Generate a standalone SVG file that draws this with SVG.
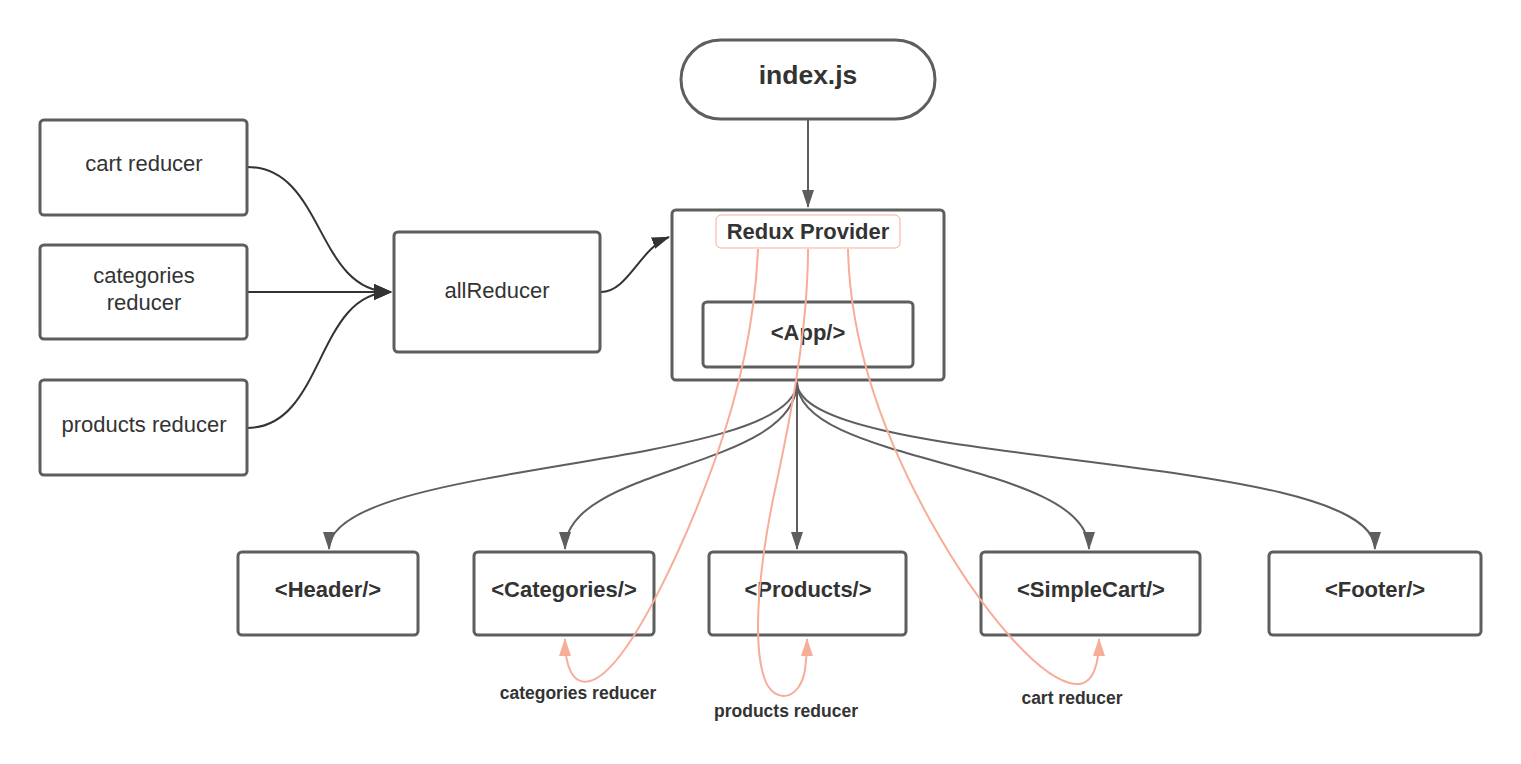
<svg xmlns="http://www.w3.org/2000/svg" width="1521" height="764" viewBox="0 0 1521 764">
<style>
.box{fill:#fff;stroke:#5e5e5e;stroke-width:3}
.t{font-family:"Liberation Sans",Arial,sans-serif;fill:#333;text-anchor:middle}
.r{font-size:22px}
.b{font-size:22px;font-weight:bold}
.s{font-size:17.5px;font-weight:bold}
.g{fill:none;stroke:#5e5e5e;stroke-width:2}
.d{fill:none;stroke:#333;stroke-width:2}
.p{fill:none;stroke:#f7ad97;stroke-width:2}
</style>
<defs>
<marker id="ag" markerUnits="userSpaceOnUse" markerWidth="18" markerHeight="12" refX="17" refY="6" orient="auto"><path d="M0,0 L18,6 L0,12 z" fill="#5e5e5e"/></marker>
<marker id="ad" markerUnits="userSpaceOnUse" markerWidth="18" markerHeight="16" refX="17" refY="8" orient="auto"><path d="M0,0 L18,8 L0,16 z" fill="#333"/></marker>
<marker id="ad2" markerUnits="userSpaceOnUse" markerWidth="18" markerHeight="12" refX="17" refY="6" orient="auto"><path d="M0,0 L18,6 L0,12 z" fill="#333"/></marker>
<marker id="ap" markerUnits="userSpaceOnUse" markerWidth="18" markerHeight="12" refX="17" refY="6" orient="auto"><path d="M0,0 L18,6 L0,12 z" fill="#f7ad97"/></marker>
</defs>
<rect width="1521" height="764" fill="#fff"/>
<g id="connectors">
<path class="g" d="M808,120 L808,207" marker-end="url(#ag)"/>
<path class="d" d="M247,167 C325,167 315,292 391,292" marker-end="url(#ad)"/>
<path class="d" d="M247,292 L391,292" marker-end="url(#ad)"/>
<path class="d" d="M247,428 C325,428 315,292 391,292" marker-end="url(#ad)"/>
<path class="d" d="M601,292 C628,292 640,248 669,237" marker-end="url(#ad2)"/>
<path class="g" d="M797,382 C797,470 329,460 329,549" marker-end="url(#ag)"/>
<path class="g" d="M797,382 C797,470 565,465 565,549" marker-end="url(#ag)"/>
<path class="g" d="M797,382 L797,549" marker-end="url(#ag)"/>
<path class="g" d="M797,382 C797,465 1089,460 1089,549" marker-end="url(#ag)"/>
<path class="g" d="M797,382 C797,470 1375,450 1375,549" marker-end="url(#ag)"/>
</g>
<g id="index"><rect class="box" x="681" y="40" width="254" height="79" rx="39.5"/><text class="t" x="808" y="84" font-size="26.5" font-weight="bold">index.js</text></g>
<g id="cart"><rect class="box" x="40" y="120" width="207" height="95" rx="4"/><text class="t r" x="144" y="171">cart reducer</text></g>
<g id="categories"><rect class="box" x="40" y="245" width="207" height="94" rx="4"/><text class="t r" x="144" y="283">categories</text><text class="t r" x="144" y="310">reducer</text></g>
<g id="products"><rect class="box" x="40" y="380" width="207" height="95" rx="4"/><text class="t r" x="144" y="432">products reducer</text></g>
<g id="allReducer"><rect class="box" x="394" y="232" width="206" height="120" rx="4"/><text class="t r" x="497" y="298">allReducer</text></g>
<g id="provider"><rect class="box" x="672" y="210" width="272" height="170" rx="4"/><rect x="716" y="215" width="184" height="33" rx="5" fill="#fff" stroke="#f7ad97" stroke-width="1"/><text class="t b" x="808" y="239">Redux Provider</text></g>
<g id="app"><rect class="box" x="703" y="302" width="210" height="65" rx="4"/><text class="t b" x="808" y="340">&lt;App/&gt;</text></g>
<g id="header"><rect class="box" x="238" y="552" width="180" height="83" rx="4"/><text class="t b" x="328" y="597">&lt;Header/&gt;</text></g>
<g id="categoriesC"><rect class="box" x="474" y="552" width="180" height="83" rx="4"/><text class="t b" x="564" y="597">&lt;Categories/&gt;</text></g>
<g id="productsC"><rect class="box" x="709" y="552" width="197" height="83" rx="4"/><text class="t b" x="808" y="597">&lt;Products/&gt;</text></g>
<g id="simplecart"><rect class="box" x="981" y="552" width="219" height="83" rx="4"/><text class="t b" x="1091" y="597">&lt;SimpleCart/&gt;</text></g>
<g id="footer"><rect class="box" x="1269" y="552" width="212" height="83" rx="4"/><text class="t b" x="1375" y="597">&lt;Footer/&gt;</text></g>
<g id="reducer-links">
<path class="p" d="M758,249 C755,320 740,390 715,460 C690,530 630,670 590,681 C572,686 565,665 565,639" marker-end="url(#ap)"/>
<path class="p" d="M808,249 C808,330 790,420 775,490 C762,550 750,640 765,680 C775,705 800,700 805,670 C807,655 807,650 807,639" marker-end="url(#ap)"/>
<path class="p" d="M848,249 C850,340 880,430 930,520 C980,610 1040,680 1075,684 C1095,686 1099,660 1099,639" marker-end="url(#ap)"/>
<text class="t s" x="578" y="699">categories reducer</text>
<text class="t s" x="786" y="717">products reducer</text>
<text class="t s" x="1072" y="704">cart reducer</text>
</g>
</svg>
